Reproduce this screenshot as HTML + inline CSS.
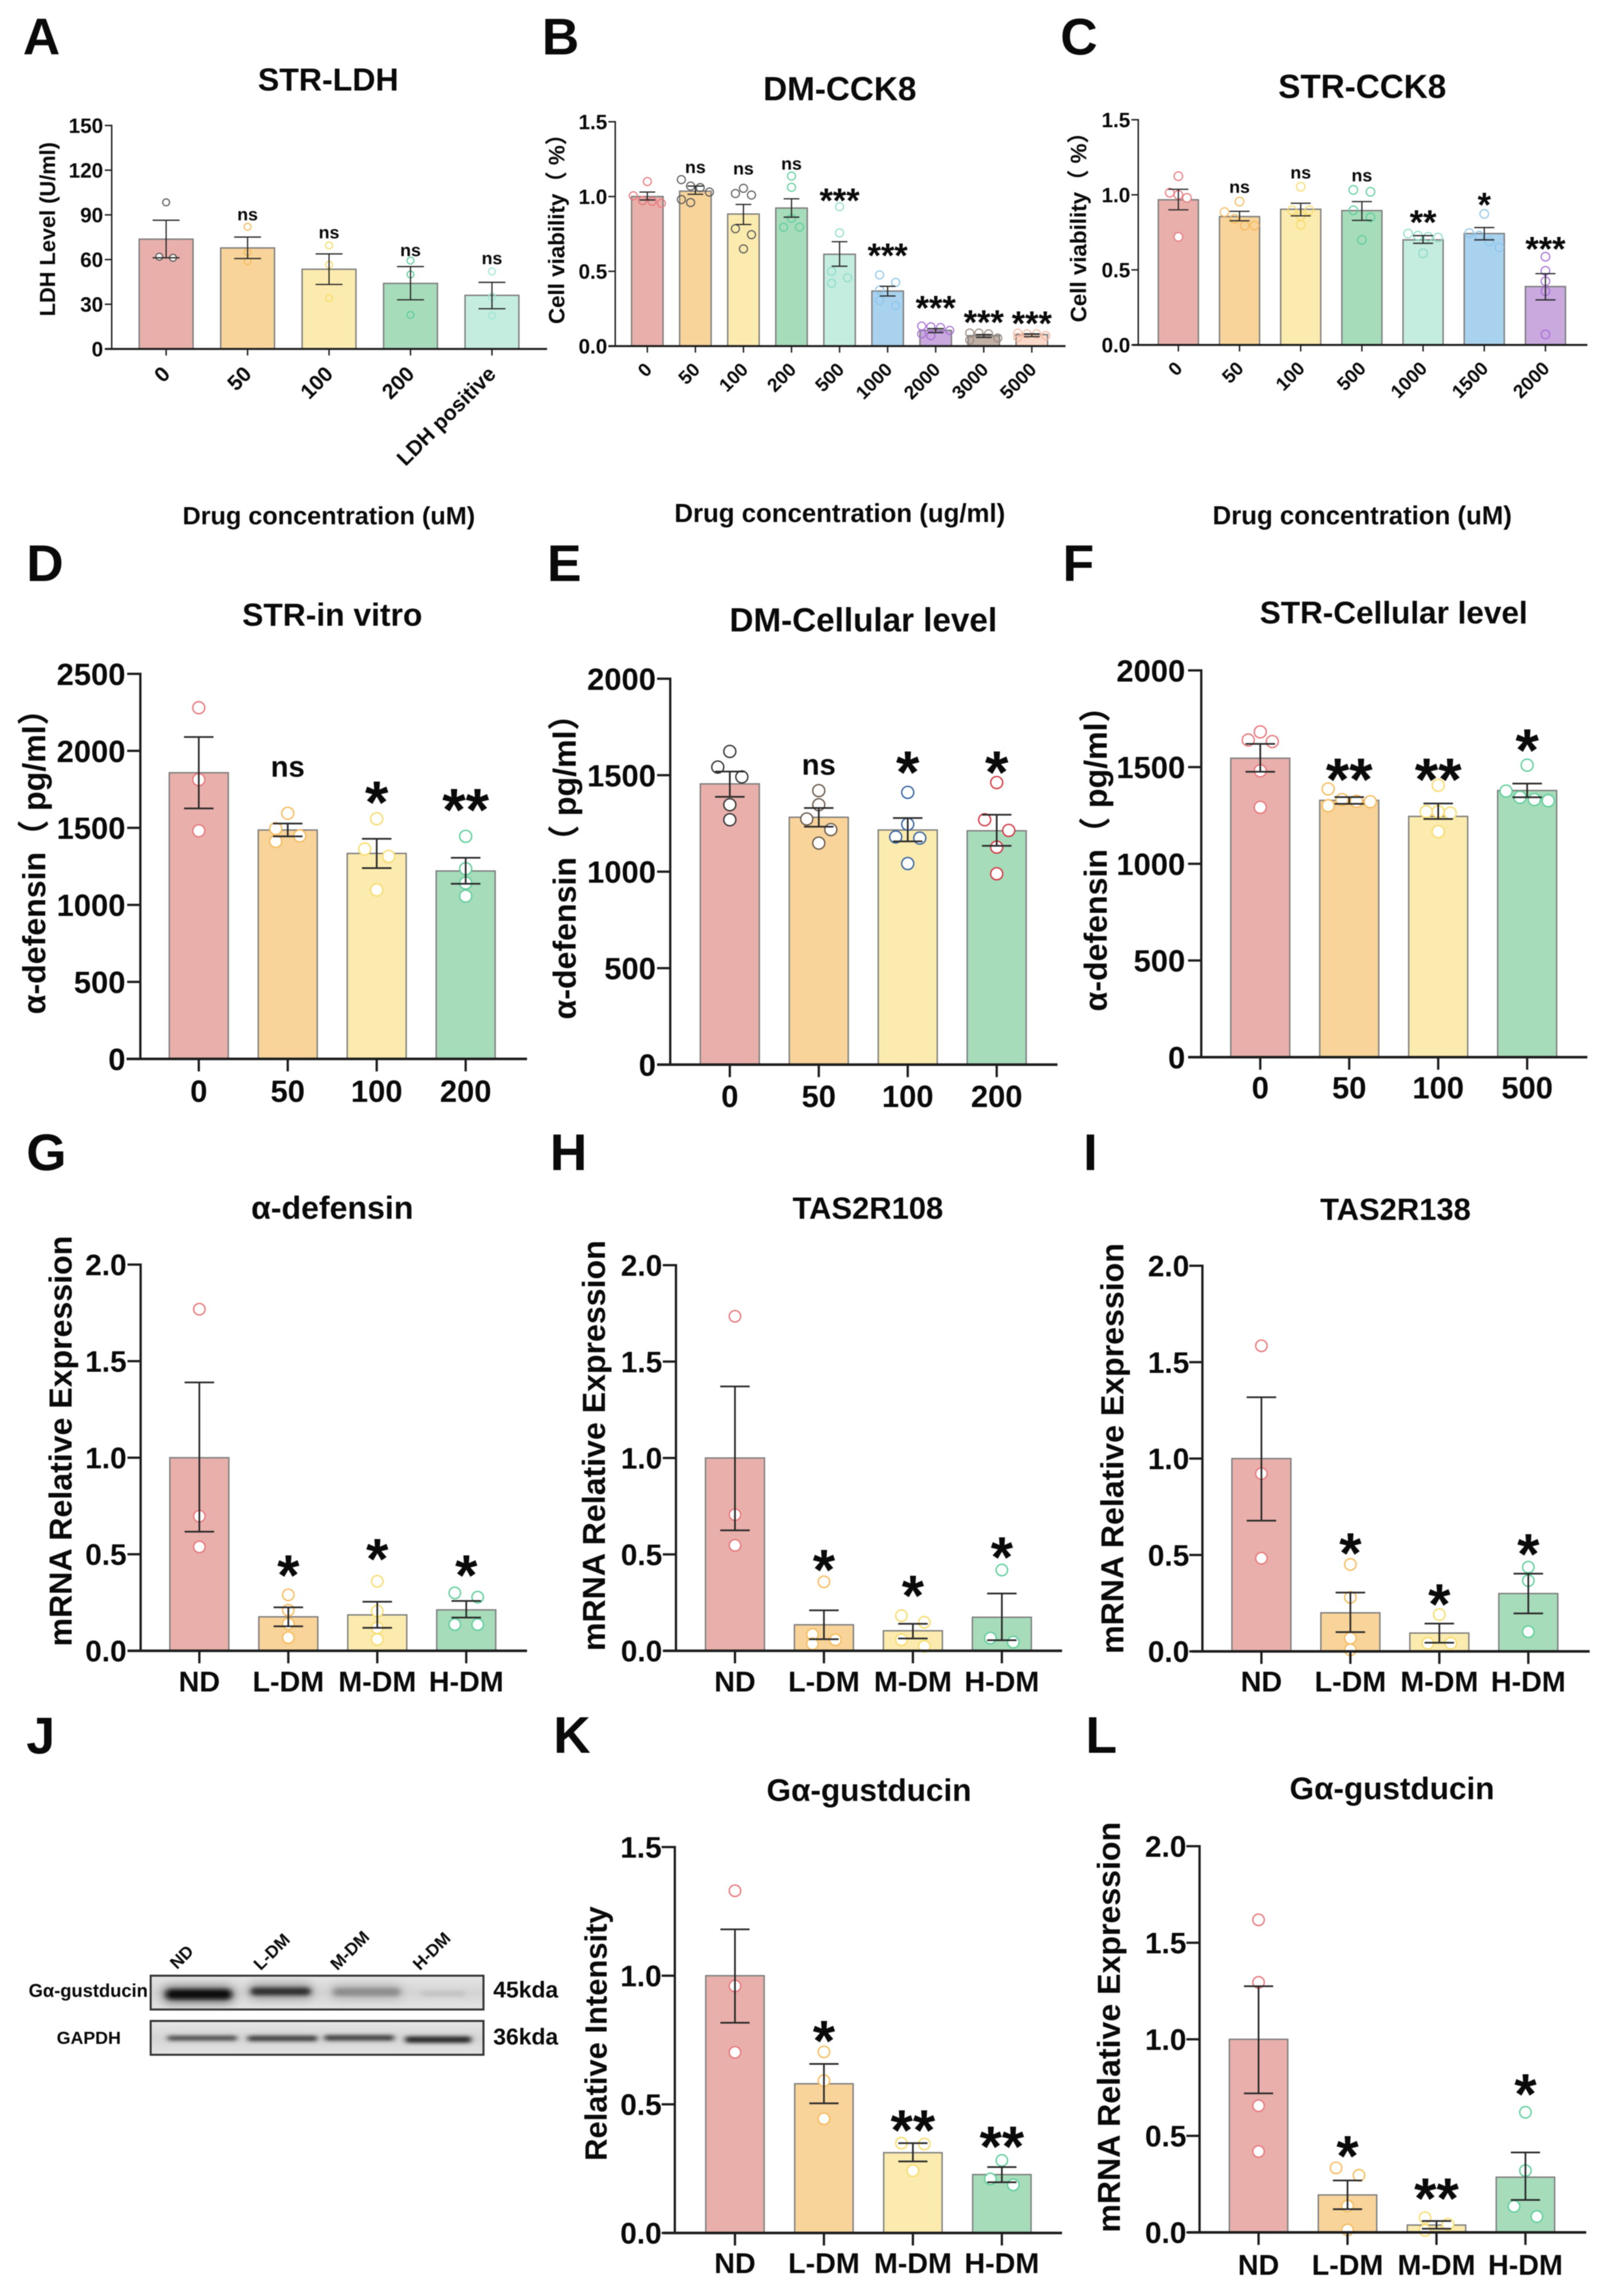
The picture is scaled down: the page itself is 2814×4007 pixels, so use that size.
<!DOCTYPE html>
<html lang="en">
<head>
<meta charset="utf-8">
<title>Multi-panel bar charts A–L</title>
<style>
html,body{margin:0;padding:0;background:#fff;}
#figure{display:block;width:2814px;height:4007px;filter:blur(0.9px);}
text{font-family:"Liberation Sans","Noto Sans CJK SC",sans-serif;font-weight:bold;fill:#0a0a0a;}
</style>
</head>
<body>
<svg id="figure" xmlns="http://www.w3.org/2000/svg" width="2814" height="4007" viewBox="0 0 2814 4007">
<defs>
<filter id="band-blur" x="-20%" y="-100%" width="140%" height="300%"><feGaussianBlur stdDeviation="5 3.5"/></filter>
<filter id="soft-blur" x="-20%" y="-100%" width="140%" height="300%"><feGaussianBlur stdDeviation="9 8"/></filter>
<linearGradient id="blot-bg" x1="0" x2="0" y1="0" y2="1"><stop offset="0" stop-color="#e6e6e6"/><stop offset="0.5" stop-color="#d4d4d4"/><stop offset="1" stop-color="#e4e4e4"/></linearGradient>
</defs>
<rect width="2814" height="4007" fill="#fff"/>
<g id="plots"></g>
<g id="western-blot">
  <rect x="263" y="3448" width="581" height="59" fill="url(#blot-bg)" stroke="#333" stroke-width="3.5"/>
  <rect x="263" y="3527" width="581" height="59" fill="url(#blot-bg)" stroke="#333" stroke-width="3.5"/>
  <g filter="url(#soft-blur)">
    <rect x="284" y="3466" width="124" height="30" rx="12" fill="#777"/>
    <rect x="434" y="3462" width="112" height="26" rx="12" fill="#999"/>
    <rect x="577" y="3464" width="125" height="24" rx="12" fill="#b4b4b4"/>
  </g>
  <g filter="url(#band-blur)">
    <rect x="290" y="3472" width="114" height="17" rx="8" fill="#0c0c0c"/>
    <rect x="438" y="3469" width="104" height="13" rx="6" fill="#2e2e2e"/>
    <rect x="582" y="3470" width="116" height="13" rx="6" fill="#8c8c8c"/>
    <rect x="736" y="3475" width="76" height="9" rx="4" fill="#c2c2c2"/>
  </g>
  <g filter="url(#band-blur)">
    <rect x="292" y="3553" width="122" height="8" rx="4" fill="#3c3c3c"/>
    <rect x="432" y="3553" width="122" height="9" rx="4" fill="#303030"/>
    <rect x="566" y="3552" width="122" height="9" rx="4" fill="#303030"/>
    <rect x="707" y="3554" width="116" height="11" rx="5" fill="#222"/>
  </g>
  <text x="50" y="3485" font-size="32">Gα-gustducin</text>
  <text x="99" y="3567" font-size="31">GAPDH</text>
  <text x="861" y="3486" font-size="40">45kda</text>
  <text x="861" y="3568" font-size="40">36kda</text>
  <text transform="translate(309,3438) rotate(-45)" font-size="30">ND</text>
  <text transform="translate(455,3440) rotate(-45)" font-size="30">L-DM</text>
  <text transform="translate(589,3440) rotate(-45)" font-size="30">M-DM</text>
  <text transform="translate(733,3440) rotate(-45)" font-size="30">H-DM</text>
</g>
</svg>
<script>
/* ---------- data ---------- */
const aCategories=["0","50","100","200","LDH positive"];
const aTicks=["0","30","60","90","120","150"];
const aMeans=[73.7,67.8,53.5,44,36];
const aErrHigh=[86.4,75.1,63.8,55.3,44.7];
const aErrLow=[61.2,60.7,43.3,33,27];
const aPoints=[[98.4,61.2,61.9],[82,65,58.9],[69.5,56.5,34],[59.3,50,22.8],[52,35,22.4]];
const aSig=["","ns","ns","ns","ns"];
const aSigLevels=[0,86.4,74.2,62.4,57];

const bCategories=["0","50","100","200","500","1000","2000","3000","5000"];
const bTicks=["0.0","0.5","1.0","1.5"];
const bMeans=[1.0,1.036,0.883,0.923,0.614,0.368,0.105,0.07,0.077];
const bErrHigh=[1.03,1.07,0.947,0.985,0.698,0.40,0.117,0.077,0.082];
const bErrLow=[0.977,1.015,0.813,0.862,0.534,0.335,0.09,0.058,0.063];
const bPoints=[[1.10,1.005,0.973,0.968,0.955],[1.113,1.07,1.06,1.03,0.98,0.96],[1.055,1.02,1.01,0.785,0.745,0.65],[1.137,1.062,0.855,0.795,0.795],[0.932,0.757,0.5,0.457,0.42],[0.476,0.426,0.375,0.305,0.27],[0.134,0.129,0.124,0.105,0.082,0.07],[0.087,0.087,0.082,0.054,0.04],[0.087,0.082,0.082,0.07,0.059]];
const bSig=["","ns","ns","ns","***","***","***","***","***"];
const bSigLevels=[0,1.158,1.148,1.181,0.984,0.616,0.265,0.171,0.162];

const cCategories=["0","50","100","500","1000","1500","2000"];
const cTicks=["0.0","0.5","1.0","1.5"];
const cMeans=[0.967,0.855,0.904,0.895,0.70,0.742,0.389];
const cErrHigh=[1.037,0.89,0.944,0.955,0.728,0.782,0.475];
const cErrLow=[0.90,0.827,0.86,0.83,0.677,0.70,0.30];
const cPoints=[[1.124,1.014,1.0,0.98,0.72],[0.955,0.885,0.84,0.795,0.795],[1.054,0.897,0.897,0.86,0.80],[1.033,1.02,0.897,0.85,0.70],[0.742,0.728,0.72,0.715,0.61],[0.873,0.745,0.728,0.69,0.65],[0.588,0.494,0.424,0.358,0.07]];
const cSig=["","ns","ns","ns","**","*","***"];
const cSigLevels=[0,1.014,1.108,1.09,0.827,0.944,0.651];

const dCategories=["0","50","100","200"];
const dTicks=["0","500","1000","1500","2000","2500"];
const dMeans=[1858,1486,1334,1220];
const dErrHigh=[2090,1528,1429,1306];
const dErrLow=[1626,1445,1239,1137];
const dPoints=[[2280,1813,1481],[1595,1495,1448,1412],[1559,1363,1315,1097],[1445,1235,1142,1057]];
const dSig=["","ns","*","**"];
const dSigLevels=[0,1832,1685,1637];

const eCategories=["0","50","100","200"];
const eTicks=["0","500","1000","1500","2000"];
const eMeans=[1455,1282,1216,1212];
const eErrHigh=[1519,1330,1278,1295];
const eErrLow=[1388,1233,1157,1134];
const ePoints=[[1623,1542,1491,1347,1269],[1420,1347,1273,1218,1148],[1411,1246,1180,1174,1042],[1462,1269,1214,1127,989]];
const eSig=["","ns","*","*"];
const eSigLevels=[0,1502,1530,1530];

const fCategories=["0","50","100","500"];
const fTicks=["0","500","1000","1500","2000"];
const fMeans=[1546,1328,1245,1379];
const fErrHigh=[1620,1345,1312,1415];
const fErrLow=[1476,1310,1232,1344];
const fPoints=[[1682,1640,1632,1481,1292],[1387,1332,1323,1321,1300],[1406,1270,1270,1262,1166],[1510,1376,1344,1332,1326]];
const fSig=["","**","**","*"];
const fSigLevels=[0,1451,1451,1603];

const groupCategories=["ND","L-DM","M-DM","H-DM"];
const expressionTicks=["0.0","0.5","1.0","1.5","2.0"];

const gMeans=[1.0,0.176,0.186,0.212];
const gErrHigh=[1.39,0.225,0.254,0.258];
const gErrLow=[0.617,0.127,0.119,0.172];
const gPoints=[[1.769,0.697,0.538],[0.29,0.21,0.14,0.068],[0.36,0.206,0.119,0.059],[0.30,0.278,0.136,0.136]];
const gSig=["","*","*","*"];
const gSigLevels=[0,0.405,0.49,0.405];

const hMeans=[1.0,0.135,0.104,0.174];
const hErrHigh=[1.371,0.21,0.14,0.297];
const hErrLow=[0.625,0.06,0.064,0.055];
const hPoints=[[1.735,0.706,0.547],[0.358,0.085,0.057,0.036],[0.182,0.148,0.057,0.023],[0.419,0.066,0.045]];
const hSig=["","*","*","*"];
const hSigLevels=[0,0.434,0.30,0.50];

const iMeans=[1.0,0.2,0.095,0.30];
const iErrHigh=[1.318,0.305,0.144,0.403];
const iErrLow=[0.678,0.10,0.045,0.197];
const iPoints=[[1.585,0.922,0.483],[0.451,0.28,0.068,0.008],[0.191,0.042,0.042],[0.437,0.367,0.102]];
const iSig=["","*","*","*"];
const iSigLevels=[0,0.523,0.258,0.519];

const kTicks=["0.0","0.5","1.0","1.5"];
const kMeans=[1.0,0.58,0.312,0.227];
const kErrHigh=[1.18,0.657,0.349,0.256];
const kErrLow=[0.817,0.504,0.278,0.197];
const kPoints=[[1.33,0.96,0.702],[0.704,0.592,0.444],[0.349,0.346,0.242],[0.282,0.21,0.187]];
const kSig=["","*","**","**"];
const kSigLevels=[0,0.757,0.41,0.346];

const lMeans=[1.0,0.194,0.038,0.286];
const lErrHigh=[1.275,0.269,0.059,0.414];
const lErrLow=[0.72,0.12,0.019,0.168];
const lPoints=[[1.619,1.295,0.656,0.419],[0.334,0.296,0.137,0.013],[0.076,0.042,0.01],[0.622,0.32,0.135,0.082]];
const lSig=["","*","**","*"];
const lSigLevels=[0,0.41,0.19,0.73];

/* ---------- palette ---------- */
const barFills=["#e9b0ab","#f8d49b","#fbebae","#a7dcbb","#c4ecdf","#a9d2ef","#c9a9de","#c0b0a6","#fbd9ca"];
const dotPink="#e8777c",dotOrange="#f6bb5c",dotYellow="#f8dc6c",dotGreen="#5fce9b";
const standardDots=[dotPink,dotOrange,dotYellow,dotGreen];

/* ---------- panel layouts (geometry and styling, not data) ---------- */
const small={axisW:2.5,baseW:3.5,tickLen:12,errW:2.2,dotW:2};
const large={axisW:4,baseW:4.5,tickLen:23,errW:3,dotW:2.4};
const panels=[
 {id:"a",letter:"A",lx:40,ly:95,title:"STR-LDH",tx:573,ty:158,ts:56,ytitle:"LDH Level (U/ml)",ytx:96,yty:400,yts:38,
  axisX:195,baseL:183,baseR:955,y0:609,yTop:219,first:290,step:142.2,barW:94,r:6,tickFs:36,labelR:180,rot:true,xFs:37,rotDy:46,rotDx:9,
  xtitle:"Drug concentration (uM)",xtx:574,xty:915,xts:44,sigNs:31,sigStar:60,s:small,
  cats:aCategories,ticks:aTicks,means:aMeans,hi:aErrHigh,lo:aErrLow,pts:aPoints,sig:aSig,sigAt:aSigLevels,
  dots:["#5a5a5a",dotOrange,dotYellow,dotGreen,"#9fe6d4"],dotFill:["#fff","none","none","none","none"]},
 {id:"b",letter:"B",lx:946,ly:95,title:"DM-CCK8",tx:1466,ty:175,ts:58,ytitle:"Cell viability（ %）",ytx:985,yty:390,yts:39,
  axisX:1074,baseL:1062,baseR:1860,y0:604,yTop:212.5,first:1130,step:83.9,barW:55,r:7,tickFs:36,labelR:1060,rot:true,xFs:33,rotDy:43,rotDx:10,
  xtitle:"Drug concentration (ug/ml)",xtx:1466,xty:911,xts:45,sigNs:31,sigStar:60,s:small,
  cats:bCategories,ticks:bTicks,means:bMeans,hi:bErrHigh,lo:bErrLow,pts:bPoints,sig:bSig,sigAt:bSigLevels,
  dots:[dotPink,"#5a5a5a","#5a5a5a",dotGreen,"#8fdcc8","#8ec5ea","#a86fd6","#9a8a80","#f5b9a0"],dotFill:Array(9).fill("none")},
 {id:"c",letter:"C",lx:1851,ly:95,title:"STR-CCK8",tx:2378,ty:171,ts:58,ytitle:"Cell viability（ %）",ytx:1896,yty:387,yts:39,
  axisX:1987,baseL:1977,baseR:2771,y0:602,yTop:209,first:2057,step:106.8,barW:70,r:7.5,tickFs:36,labelR:1973,rot:true,xFs:33,rotDy:43,rotDx:9,
  xtitle:"Drug concentration (uM)",xtx:2378,xty:915,xts:45,sigNs:31,sigStar:60,s:small,
  cats:cCategories,ticks:cTicks,means:cMeans,hi:cErrHigh,lo:cErrLow,pts:cPoints,sig:cSig,sigAt:cSigLevels,
  dots:[dotPink,dotOrange,dotYellow,dotGreen,"#8fdcc8","#8ec5ea","#a86fd6"],dotFill:["#fff","none","none","none","none","none","none"]},
 {id:"d",letter:"D",lx:46,ly:1014,title:"STR-in vitro",tx:580,ty:1092,ts:55.5,ytitle:"α-defensin（ pg/ml）",ytx:79,yty:1490,yts:56,
  axisX:245,baseL:221,baseR:920,y0:1848,yTop:1176,first:347,step:155.3,barW:103,r:10.5,tickFs:54,labelR:219,xFs:54,xLabelY:1923,
  sigNs:51,sigStar:105,s:large,cats:dCategories,ticks:dTicks,means:dMeans,hi:dErrHigh,lo:dErrLow,pts:dPoints,sig:dSig,sigAt:dSigLevels,
  dots:standardDots,dotFill:Array(4).fill("#fff")},
 {id:"e",letter:"E",lx:955,ly:1014,title:"DM-Cellular level",tx:1507,ty:1102,ts:58,ytitle:"α-defensin（ pg/ml）",ytx:1005,yty:1499,yts:56,
  axisX:1170,baseL:1147,baseR:1846,y0:1858,yTop:1184.5,first:1274,step:155.3,barW:103,r:10.5,tickFs:54,labelR:1145,xFs:54,xLabelY:1932,
  sigNs:51,sigStar:105,s:large,cats:eCategories,ticks:eTicks,means:eMeans,hi:eErrHigh,lo:eErrLow,pts:ePoints,sig:eSig,sigAt:eSigLevels,
  dots:["#333","#6b5b4c","#35639f","#d23b45"],dotFill:Array(4).fill("#fff")},
 {id:"f",letter:"F",lx:1855,ly:1014,title:"STR-Cellular level",tx:2433,ty:1088,ts:55,ytitle:"α-defensin（ pg/ml）",ytx:1932,yty:1485,yts:56,
  axisX:2097,baseL:2074,baseR:2771,y0:1845,yTop:1170,first:2200,step:155.3,barW:103,r:10.5,tickFs:54,labelR:2069,xFs:54,xLabelY:1917,
  sigNs:51,sigStar:105,s:large,cats:fCategories,ticks:fTicks,means:fMeans,hi:fErrHigh,lo:fErrLow,pts:fPoints,sig:fSig,sigAt:fSigLevels,
  dots:standardDots,dotFill:Array(4).fill("#fff")},
 {id:"g",letter:"G",lx:46,ly:2042,title:"α-defensin",tx:580,ty:2127,ts:56,ytitle:"mRNA Relative Expression",ytx:125,yty:2515,yts:56,
  axisX:245.5,baseL:223,baseR:920,y0:2881,yTop:2207,first:348,step:155.3,barW:103,r:10,tickFs:52,labelR:221,xFs:50,xLabelY:2952,
  sigNs:51,sigStar:100,s:large,cats:groupCategories,ticks:expressionTicks,means:gMeans,hi:gErrHigh,lo:gErrLow,pts:gPoints,sig:gSig,sigAt:gSigLevels,
  dots:standardDots,dotFill:Array(4).fill("#fff")},
 {id:"h",letter:"H",lx:960,ly:2042,title:"TAS2R108",tx:1515,ty:2127,ts:54,ytitle:"mRNA Relative Expression",ytx:1056,yty:2523,yts:56,
  axisX:1180,baseL:1159,baseR:1854,y0:2881,yTop:2208,first:1283,step:155.3,barW:103,r:10,tickFs:52,labelR:1156,xFs:50,xLabelY:2952,
  sigNs:51,sigStar:100,s:large,cats:groupCategories,ticks:expressionTicks,means:hMeans,hi:hErrHigh,lo:hErrLow,pts:hPoints,sig:hSig,sigAt:hSigLevels,
  dots:standardDots,dotFill:Array(4).fill("#fff")},
 {id:"i",letter:"I",lx:1891,ly:2042,title:"TAS2R138",tx:2436,ty:2129,ts:54,ytitle:"mRNA Relative Expression",ytx:1961,yty:2528,yts:56,
  axisX:2099,baseL:2081,baseR:2775,y0:2882,yTop:2209,first:2202,step:155.3,barW:103,r:10,tickFs:52,labelR:2076,xFs:50,xLabelY:2952,
  sigNs:51,sigStar:100,s:large,cats:groupCategories,ticks:expressionTicks,means:iMeans,hi:iErrHigh,lo:iErrLow,pts:iPoints,sig:iSig,sigAt:iSigLevels,
  dots:standardDots,dotFill:Array(4).fill("#fff")},
 {id:"k",letter:"K",lx:966,ly:3059,title:"Gα-gustducin",tx:1517,ty:3143,ts:55,ytitle:"Relative Intensity",ytx:1059,yty:3549,yts:54,
  axisX:1178,baseL:1158,baseR:1854,y0:3897,yTop:3223.5,first:1283,step:155.3,barW:102,r:10,tickFs:52,labelR:1155,xFs:50,xLabelY:3967,
  sigNs:51,sigStar:100,s:large,cats:groupCategories,ticks:kTicks,means:kMeans,hi:kErrHigh,lo:kErrLow,pts:kPoints,sig:kSig,sigAt:kSigLevels,
  dots:standardDots,dotFill:Array(4).fill("#fff")},
 {id:"l",letter:"L",lx:1895,ly:3059,title:"Gα-gustducin",tx:2430,ty:3140,ts:55,ytitle:"mRNA Relative Expression",ytx:1955,yty:3538,yts:56,
  axisX:2094,baseL:2074,baseR:2769,y0:3896,yTop:3222,first:2197,step:155.3,barW:102,r:10,tickFs:52,labelR:2071,xFs:50,xLabelY:3970,
  sigNs:51,sigStar:100,s:large,cats:groupCategories,ticks:expressionTicks,means:lMeans,hi:lErrHigh,lo:lErrLow,pts:lPoints,sig:lSig,sigAt:lSigLevels,
  dots:standardDots,dotFill:Array(4).fill("#fff")}
];

/* ---------- drawing helpers ---------- */
const NS="http://www.w3.org/2000/svg";
const root=document.getElementById("plots");
function make(tag,parent,attrs){
  const el=document.createElementNS(NS,tag);
  for(const k in attrs){el.setAttribute(k,attrs[k]);}
  parent.appendChild(el);
  return el;
}
function line(parent,x1,y1,x2,y2,color,w){
  return make("line",parent,{x1:x1,y1:y1,x2:x2,y2:y2,stroke:color,"stroke-width":w});
}
function label(parent,x,y,str,size,anchor,rot){
  const el=make("text",parent,{"font-size":size,"text-anchor":anchor||"middle",
    transform:"translate("+x+","+y+")"+(rot?" rotate("+rot+")":"")});
  el.textContent=str;
  return el;
}
/* Spread points of similar value sideways, as a swarm plot does. */
function swarmOffsets(vals,yOf,r){
  const order=vals.map(function(v,i){return i;}).sort(function(a,b){return vals[b]-vals[a];});
  const out=new Array(vals.length).fill(0);
  let cluster=[];
  function flush(){
    const n=cluster.length;
    if(n===2){out[cluster[0]]=-2*r;out[cluster[1]]=2*r;}
    else if(n===3){
      const gapA=yOf(vals[cluster[1]])-yOf(vals[cluster[0]]);
      const gapB=yOf(vals[cluster[2]])-yOf(vals[cluster[1]]);
      let slots=[-2*r,2*r,-2*r];
      if(gapA+gapB<1.2*r){slots=[-2*r,0,2*r];}
      else if(gapB<0.6*r){slots=[0,-2*r,2*r];}
      else if(gapA<0.6*r){slots=[-2*r,2*r,0];}
      cluster.forEach(function(idx,j){out[idx]=slots[j];});
    }else if(n>=4){
      const slots=[-3.5*r,-1.2*r,1.2*r,3.5*r];
      cluster.forEach(function(idx,j){out[idx]=slots[j%4];});
    }
    cluster=[];
  }
  order.forEach(function(idx){
    if(cluster.length){
      const prev=cluster[cluster.length-1];
      if(yOf(vals[idx])-yOf(vals[prev])>=2*r){flush();}
    }
    cluster.push(idx);
  });
  flush();
  return out;
}

/* ---------- render ---------- */
panels.forEach(function(p){
  const g=make("g",root,{});
  
  
  const maxV=Number(p.ticks[p.ticks.length-1]);
  const yOf=function(v){return p.y0-(v/maxV)*(p.y0-p.yTop);};
  const xOf=function(i){return p.first+i*p.step;};
  const s=p.s;

  const letter=label(g,p.lx,p.ly,p.letter,90,"start");
  
  

  const title=label(g,p.tx,p.ty,p.title,p.ts);
  
  

  const yTitle=label(g,p.ytx,p.yty,p.ytitle,p.yts,"middle",-90);
  
  

  if(p.xtitle){
    const xTitle=label(g,p.xtx,p.xty,p.xtitle,p.xts);
    
    
  }

  /* bars */
  p.means.forEach(function(v,i){
    const bar=make("rect",g,{x:xOf(i)-p.barW/2,y:yOf(v),width:p.barW,height:p.y0-yOf(v),
      fill:barFills[i],stroke:"#7d7d7d","stroke-width":2.4});
    
    
  });

  /* points */
  p.pts.forEach(function(vals,i){
    const offs=swarmOffsets(vals,yOf,p.r);
    vals.forEach(function(v,j){
      const dot=make("circle",g,{cx:xOf(i)+offs[j],cy:yOf(v),r:p.r,
        fill:p.dotFill[i],stroke:p.dots[i],"stroke-width":s.dotW});
      
      
    });
  });

  /* error bars */
  p.means.forEach(function(v,i){
    const cap=p.barW*0.25;
    const stem=line(g,xOf(i),yOf(p.hi[i]),xOf(i),yOf(p.lo[i]),"#2a2a2a",s.errW);
    
    
    const top=line(g,xOf(i)-cap,yOf(p.hi[i]),xOf(i)+cap,yOf(p.hi[i]),"#2a2a2a",s.errW);
    
    
    const low=line(g,xOf(i)-cap,yOf(p.lo[i]),xOf(i)+cap,yOf(p.lo[i]),"#2a2a2a",s.errW);
    
    
  });

  /* axes */
  const yAxis=line(g,p.axisX,p.yTop-s.axisW/2,p.axisX,p.y0,"#1c1c1c",s.axisW);
  
  
  const xAxis=line(g,p.baseL,p.y0,p.baseR,p.y0,"#1c1c1c",s.baseW);
  
  

  p.ticks.forEach(function(t){
    const y=yOf(Number(t));
    const tick=line(g,p.axisX-s.tickLen,y,p.axisX,y,"#1c1c1c",s.axisW);
    
    
    const tl=label(g,p.labelR,y+p.tickFs*0.36,t,p.tickFs,"end");
    
    
  });

  p.cats.forEach(function(c,i){
    const x=xOf(i);
    const tick=line(g,x,p.y0,x,p.y0+s.tickLen*0.95,"#1c1c1c",s.axisW);
    
    
    const tl=p.rot
      ? label(g,x+p.rotDx,p.y0+p.rotDy,c,p.xFs,"end",-45)
      : label(g,x,p.xLabelY,c,p.xFs);
    
    
  });

  /* significance marks */
  p.sig.forEach(function(m,i){
    if(!m){return;}
    const isNs=m==="ns";
    const size=isNs?p.sigNs:p.sigStar;
    const y=yOf(p.sigAt[i])+(isNs?0:size*0.39);
    const mark=label(g,xOf(i),y,m,size);
    
    
  });
});

const letterJ=label(root,46,3060,"J",90,"start");


</script>
</body>
</html>
